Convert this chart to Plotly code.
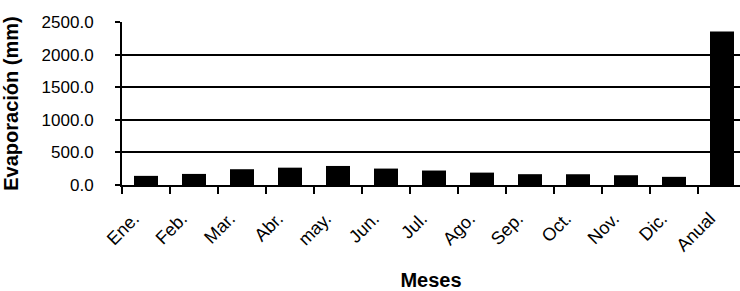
import plotly.graph_objects as go

meses = ["Ene.", "Feb.", "Mar.", "Abr.", "may.", "Jun.", "Jul.", "Ago.", "Sep.", "Oct.", "Nov.", "Dic.", "Anual"]
evaporacion = [140, 170, 242, 266, 292, 252, 222, 190, 166, 165, 150, 125, 2355]
y_ticks = [0, 500, 1000, 1500, 2000, 2500]
y_tick_labels = ["0.0", "500.0", "1000.0", "1500.0", "2000.0", "2500.0"]

fig = go.Figure()
fig.add_trace(go.Bar(
    x=meses, y=evaporacion,
    marker=dict(color="#000000", line=dict(width=0)),
    width=0.5,
))

fig.update_layout(
    width=740, height=291,
    margin=dict(l=122, r=0, t=22, b=106, autoexpand=False),
    paper_bgcolor="white", plot_bgcolor="white",
    showlegend=False,
    font=dict(family="Liberation Sans, Arial, sans-serif", color="black"),
)
fig.update_xaxes(
    range=[-0.5, -0.5 + 618 / 48],
    automargin=False,
    tickangle=-45,
    tickfont=dict(size=18, color="black"),
    ticks="outside", ticklen=7, tickcolor="black", tickwidth=1.5,
    tickson="boundaries",
    ticklabelstandoff=14,
    ticklabelshift=-12,
    showline=True, linecolor="black", linewidth=2,
    showgrid=False,
    title=dict(text="<b>Meses</b>", font=dict(size=20, color="black"), standoff=25),
)
fig.update_yaxes(
    range=[0, 2500],
    automargin=False,
    tickvals=y_ticks, ticktext=y_tick_labels,
    tickfont=dict(size=17, color="black"),
    ticks="outside", ticklen=5, tickcolor="black", tickwidth=1.5,
    ticklabelstandoff=18,
    showline=True, linecolor="black", linewidth=2,
    showgrid=True, gridcolor="black", gridwidth=1.5,
    zeroline=False,
    title=dict(text="<b>Evaporación (mm)</b>", font=dict(size=20, color="black"), standoff=18),
)

fig.write_html(
    "out.html",
    config={"displayModeBar": False},
    post_script="document.body.style.margin='0';document.body.style.overflow='hidden';",
)
